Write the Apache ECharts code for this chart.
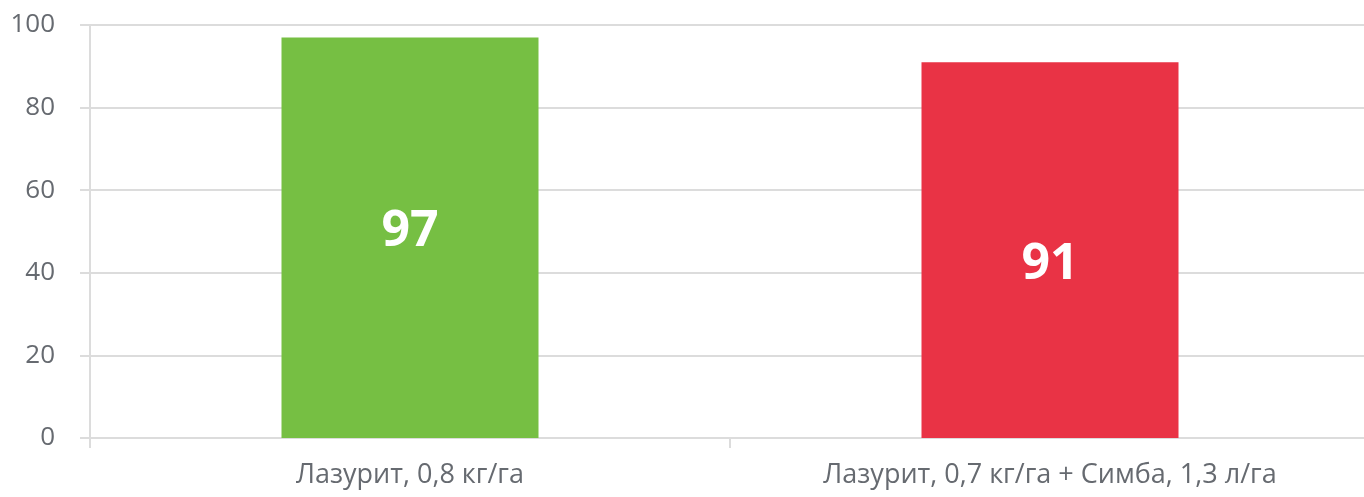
<!DOCTYPE html>
<html>
<head>
<meta charset="utf-8">
<script src="https://cdn.jsdelivr.net/npm/echarts@6/dist/echarts.min.js"></script>
<style>
  html, body { margin: 0; padding: 0; background: #fff; }
  #chart { width: 1364px; height: 497px; }
</style>
</head>
<body>
<div id="chart"></div>
<script>
// Данные
const categories = ['Лазурит, 0,8 кг/га', 'Лазурит, 0,7 кг/га + Симба, 1,3 л/га'];
const values = [97, 91];
const barColors = ['#76bf43', '#e93345'];

const GRID = '#dcdcdc';
const TEXT = '#666a70';
const FONT = '"Open Sans", "Noto Sans", sans-serif';
// подписи в столбцах в оригинале не строго по центру
const LABEL_SHIFT = [[0, -6], [0, 15]];

const chart = echarts.init(document.getElementById('chart'), null, { renderer: 'canvas' });
chart.setOption({
  animation: false,
  grid: { left: 90, right: -6, top: 25, bottom: 59, outerBoundsMode: 'none' },
  xAxis: {
    type: 'category',
    data: categories,
    axisLine: { lineStyle: { color: GRID, width: 2 } },
    axisTick: { show: true, length: 10, lineStyle: { color: GRID, width: 2 } },
    axisLabel: { color: TEXT, fontSize: 27, fontFamily: FONT, margin: 24 },
  },
  yAxis: {
    type: 'value',
    min: 0, max: 100, interval: 20,
    axisLine: { show: true, lineStyle: { color: GRID, width: 2 } },
    axisTick: { show: true, length: 10, lineStyle: { color: GRID, width: 2 } },
    axisLabel: { color: TEXT, fontSize: 26, fontFamily: FONT, margin: 35 },
    splitLine: { lineStyle: { color: GRID, width: 2 } },
  },
  series: [{
    type: 'bar',
    barWidth: 257,
    data: values.map((v, i) => ({
      value: v,
      itemStyle: { color: barColors[i] },
      label: { offset: LABEL_SHIFT[i] },
    })),
    label: {
      show: true, position: 'inside', color: '#fff',
      fontSize: 50, fontWeight: 'bold', fontFamily: FONT,
    },
  }],
});
</script>
</body>
</html>
